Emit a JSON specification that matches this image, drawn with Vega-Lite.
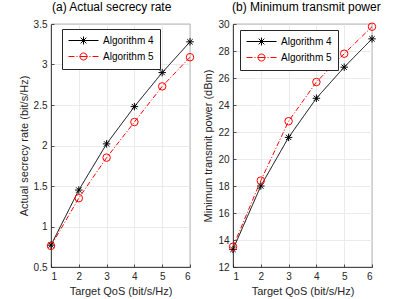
{
  "$schema": "https://vega.github.io/schema/vega-lite/v6.json",
  "background": "white",
  "padding": {"left": 17, "top": 0, "right": 5, "bottom": 0},
  "config": {
    "font": "Liberation Sans",
    "view": {"stroke": "#262626", "strokeWidth": 0.8},
    "axis": {
      "gridColor": "#e6e6e6", "gridWidth": 0.8,
      "domainColor": "#262626", "domainWidth": 0.8,
      "ticks": true, "tickSize": -3, "tickColor": "#262626", "tickWidth": 0.8,
      "labelColor": "#262626", "labelFontSize": 10, "labelPadding": 7,
      "titleColor": "#262626", "titleFontSize": 11, "titleFontWeight": "normal", "titlePadding": 4
    },
    "legend": {"title": null, "orient": "none", "strokeColor": "#262626", "fillColor": "white", "padding": 6, "symbolSize": 100, "symbolStrokeWidth": 1, "labelOffset": 24, "labelFontSize": 10, "labelColor": "#000000", "rowPadding": 3, "cornerRadius": 0, "symbolOpacity": 1},
    "title": {"fontSize": 12, "fontWeight": "normal", "color": "#000000", "offset": 5, "anchor": "start", "frame": "group"}
  },
  "datasets": {
    "rate": [
      {"qos": 1, "alg": "Algorithm 4", "value": 0.77},
      {"qos": 2, "alg": "Algorithm 4", "value": 1.45},
      {"qos": 3, "alg": "Algorithm 4", "value": 2.02},
      {"qos": 4, "alg": "Algorithm 4", "value": 2.48},
      {"qos": 5, "alg": "Algorithm 4", "value": 2.90},
      {"qos": 6, "alg": "Algorithm 4", "value": 3.28},
      {"qos": 1, "alg": "Algorithm 5", "value": 0.76},
      {"qos": 2, "alg": "Algorithm 5", "value": 1.35},
      {"qos": 3, "alg": "Algorithm 5", "value": 1.85},
      {"qos": 4, "alg": "Algorithm 5", "value": 2.29},
      {"qos": 5, "alg": "Algorithm 5", "value": 2.73},
      {"qos": 6, "alg": "Algorithm 5", "value": 3.09}
    ],
    "power": [
      {"qos": 1, "alg": "Algorithm 4", "value": 13.3},
      {"qos": 2, "alg": "Algorithm 4", "value": 18.0},
      {"qos": 3, "alg": "Algorithm 4", "value": 21.6},
      {"qos": 4, "alg": "Algorithm 4", "value": 24.5},
      {"qos": 5, "alg": "Algorithm 4", "value": 26.8},
      {"qos": 6, "alg": "Algorithm 4", "value": 28.9},
      {"qos": 1, "alg": "Algorithm 5", "value": 13.5},
      {"qos": 2, "alg": "Algorithm 5", "value": 18.4},
      {"qos": 3, "alg": "Algorithm 5", "value": 22.8},
      {"qos": 4, "alg": "Algorithm 5", "value": 25.7},
      {"qos": 5, "alg": "Algorithm 5", "value": 27.8},
      {"qos": 6, "alg": "Algorithm 5", "value": 29.8}
    ]
  },
  "bounds": "flush",
  "spacing": 43,
  "hconcat": [
    {
      "width": 139, "height": 243,
      "title": {"text": "(a) Actual secrecy rate", "dx": 1},
      "data": {"name": "rate"},
      "resolve": {"scale": {"shape": "independent", "color": "independent"}},
      "encoding": {
        "x": {"field": "qos", "type": "quantitative", "scale": {"domain": [1, 6]}, "axis": {"values": [1,2,3,4,5,6], "title": "Target QoS (bit/s/Hz)"}},
        "y": {"field": "value", "type": "quantitative", "scale": {"domain": [0.5, 3.5]}, "axis": {"values": [0.5,1,1.5,2,2.5,3,3.5], "format": ".1~f", "title": "Actual secrecy rate (bit/s/Hz)"}}
      },
      "layer": [
        {"mark": {"type": "line", "strokeWidth": 1},
         "encoding": {
           "color": {"field": "alg", "type": "nominal", "scale": {"domain": ["Algorithm 4", "Algorithm 5"], "range": ["#000000", "#ff0000"]}, "legend": null},
           "strokeDash": {"field": "alg", "type": "nominal", "scale": {"domain": ["Algorithm 4", "Algorithm 5"], "range": [[1, 0], [5, 2, 1, 2]]}, "legend": null}}},
        {"mark": {"type": "point", "filled": false, "strokeWidth": 1, "opacity": 1, "size": 56},
         "encoding": {
           "color": {"field": "alg", "type": "nominal", "scale": {"domain": ["Algorithm 4", "Algorithm 5"], "range": ["#000000", "#ff0000"]}, "legend": null},
           "shape": {"field": "alg", "type": "nominal", "scale": {"domain": ["Algorithm 4", "Algorithm 5"], "range": ["M-1,0L1,0M0,-1L0,1M-0.71,-0.71L0.71,0.71M-0.71,0.71L0.71,-0.71", "circle"]}, "legend": null}}},
        {"transform": [{"filter": "false"}],
         "mark": {"type": "point", "filled": false, "strokeWidth": 1, "opacity": 1},
         "encoding": {
           "color": {"field": "alg", "type": "nominal", "scale": {"domain": ["Algorithm 4", "Algorithm 5"], "range": ["#000000", "#ff0000"]}, "legend": {"legendX": 11, "legendY": 5}},
           "shape": {"field": "alg", "type": "nominal", "scale": {"domain": ["Algorithm 4", "Algorithm 5"], "range": ["M-1,0L5,0M1.2,0L2.8,0M2,-0.8L2,0.8M1.43,-0.57L2.57,0.57M1.43,0.57L2.57,-0.57", "M-1,0L0.2,0M0.6,0L0.8,0M1.2,0L2.8,0M3.2,0L3.4,0M3.8,0L5,0M2.7,0A0.7,0.7 0 1,1 1.3,0A0.7,0.7 0 1,1 2.7,0"]}, "legend": {"legendX": 11, "legendY": 5}}}}
      ]
    },
    {
      "width": 139, "height": 243,
      "title": {"text": "(b) Minimum transmit power", "dx": -1},
      "data": {"name": "power"},
      "resolve": {"scale": {"shape": "independent", "color": "independent"}},
      "encoding": {
        "x": {"field": "qos", "type": "quantitative", "scale": {"domain": [1, 6]}, "axis": {"values": [1,2,3,4,5,6], "title": "Target QoS (bit/s/Hz)"}},
        "y": {"field": "value", "type": "quantitative", "scale": {"domain": [12, 30]}, "axis": {"values": [12,14,16,18,20,22,24,26,28,30], "title": "Minimum transmit power (dBm)"}}
      },
      "layer": [
        {"mark": {"type": "line", "strokeWidth": 1},
         "encoding": {
           "color": {"field": "alg", "type": "nominal", "scale": {"domain": ["Algorithm 4", "Algorithm 5"], "range": ["#000000", "#ff0000"]}, "legend": null},
           "strokeDash": {"field": "alg", "type": "nominal", "scale": {"domain": ["Algorithm 4", "Algorithm 5"], "range": [[1, 0], [5, 2, 1, 2]]}, "legend": null}}},
        {"mark": {"type": "point", "filled": false, "strokeWidth": 1, "opacity": 1, "size": 56},
         "encoding": {
           "color": {"field": "alg", "type": "nominal", "scale": {"domain": ["Algorithm 4", "Algorithm 5"], "range": ["#000000", "#ff0000"]}, "legend": null},
           "shape": {"field": "alg", "type": "nominal", "scale": {"domain": ["Algorithm 4", "Algorithm 5"], "range": ["M-1,0L1,0M0,-1L0,1M-0.71,-0.71L0.71,0.71M-0.71,0.71L0.71,-0.71", "circle"]}, "legend": null}}},
        {"transform": [{"filter": "false"}],
         "mark": {"type": "point", "filled": false, "strokeWidth": 1, "opacity": 1},
         "encoding": {
           "color": {"field": "alg", "type": "nominal", "scale": {"domain": ["Algorithm 4", "Algorithm 5"], "range": ["#000000", "#ff0000"]}, "legend": {"legendX": 7, "legendY": 6}},
           "shape": {"field": "alg", "type": "nominal", "scale": {"domain": ["Algorithm 4", "Algorithm 5"], "range": ["M-1,0L5,0M1.2,0L2.8,0M2,-0.8L2,0.8M1.43,-0.57L2.57,0.57M1.43,0.57L2.57,-0.57", "M-1,0L0.2,0M0.6,0L0.8,0M1.2,0L2.8,0M3.2,0L3.4,0M3.8,0L5,0M2.7,0A0.7,0.7 0 1,1 1.3,0A0.7,0.7 0 1,1 2.7,0"]}, "legend": {"legendX": 7, "legendY": 6}}}}
      ]
    }
  ]
}
